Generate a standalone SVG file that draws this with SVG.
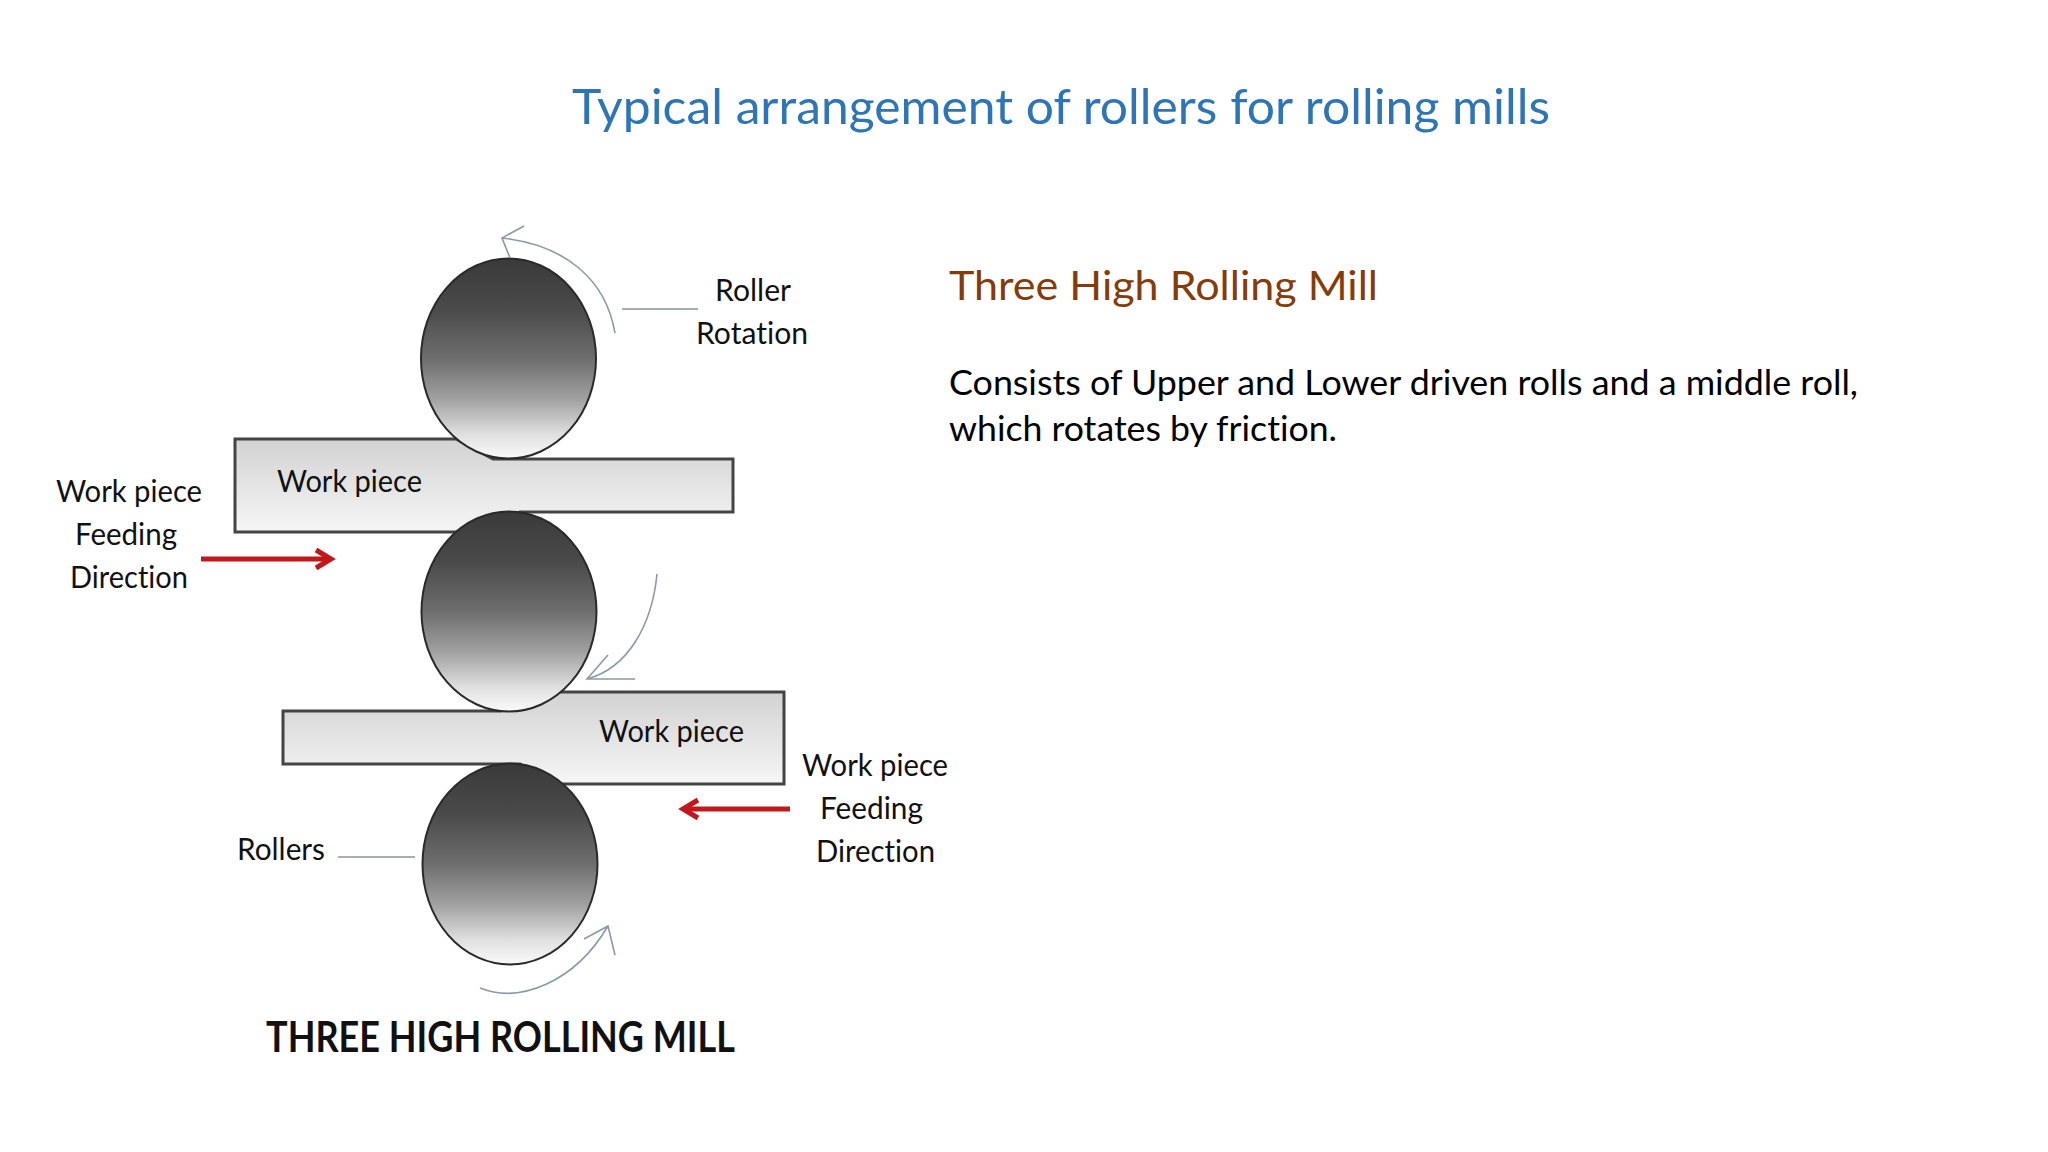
<svg xmlns="http://www.w3.org/2000/svg" width="2048" height="1152" viewBox="0 0 2048 1152">
<style>
text{font-family:"Lato","Carlito","Liberation Sans",sans-serif;fill:#111;font-variant-ligatures:none}
.lab{font-size:31px}
.title{font-size:48px;fill:#2e75b6}
.head{font-size:41px;fill:#843c0c}
.body{font-size:35px;fill:#000}
.roller{fill:url(#rg);stroke:#2a2a2a;stroke-width:2}
.wp{fill:url(#wg);stroke:#444;stroke-width:3}
.rot{fill:none;stroke:#8a9aa6;stroke-width:1.6}
.lead{fill:none;stroke:#8a949c;stroke-width:1.6}
.feed{fill:none;stroke:#c0181c;stroke-width:5;marker-end:url(#chev)}
</style>
<defs>
<linearGradient id="rg" x1="0" y1="0" x2="0" y2="1">
<stop offset="0" stop-color="#3a3a3a"/><stop offset=".25" stop-color="#4a4a4a"/><stop offset=".5" stop-color="#6e6e6e"/><stop offset=".7" stop-color="#a0a0a0"/><stop offset=".88" stop-color="#e0e0e0"/><stop offset="1" stop-color="#fafafa"/>
</linearGradient>
<linearGradient id="wg" x1="0" y1="0" x2="0" y2="1">
<stop offset="0" stop-color="#d2d2d2"/><stop offset=".5" stop-color="#e4e4e4"/><stop offset="1" stop-color="#f6f6f6"/>
</linearGradient>
<marker id="chev" markerUnits="userSpaceOnUse" markerWidth="24" markerHeight="24" refX="16" refY="12" orient="auto" overflow="visible">
<path d="M1 3 L16 12 L1 21" fill="none" stroke="#c0181c" stroke-width="5"/>
</marker>
</defs>
<rect width="2048" height="1152" fill="#fff"/>
<g id="page-title"><text class="title" x="572" y="124" textLength="978" lengthAdjust="spacingAndGlyphs">Typical arrangement of rollers for rolling mills</text></g>
<g id="description">
<text class="head" x="949" y="300" textLength="429" lengthAdjust="spacingAndGlyphs">Three High Rolling Mill</text>
<text class="body" x="949" y="395" textLength="909" lengthAdjust="spacingAndGlyphs">Consists of Upper and Lower driven rolls and a middle roll,</text>
<text class="body" x="949" y="441" textLength="388" lengthAdjust="spacingAndGlyphs">which rotates by friction.</text>
</g>
<g id="workpiece-top"><polygon class="wp" points="235,439 456,439 493,459 733,459 733,512 520,512 470,532 235,532"/>
<text class="lab" x="277" y="492" textLength="145" lengthAdjust="spacingAndGlyphs">Work piece</text></g>
<g id="workpiece-bottom"><polygon class="wp" points="283,711 500,711 560,692 784,692 784,784 560,784 520,764 283,764"/>
<text class="lab" x="599" y="742" textLength="145" lengthAdjust="spacingAndGlyphs">Work piece</text></g>
<g id="roller-top"><ellipse class="roller" cx="508.500" cy="358.500" rx="87.500" ry="100"/></g>
<g id="roller-middle"><ellipse class="roller" cx="509" cy="611.500" rx="87.500" ry="100"/></g>
<g id="roller-bottom"><ellipse class="roller" cx="510" cy="864" rx="87.500" ry="100.500"/></g>
<g id="connectors">
<path class="rot" d="M615 333 C606 280 566 245 502 238 M524 226 L502 238 L510 258"/>
<path class="rot" d="M657 574 C652 625 628 668 587 679 M608 655 L587 679 L635 679"/>
<path class="rot" d="M480 988 C520 1004 575 982 608 926 M584 939 L608 926 L615 955"/>
<path class="lead" d="M622 309 H698"/>
<path class="lead" d="M338 857 H415"/>
<path class="feed" d="M201 559 H331"/>
<path class="feed" d="M790 809 H683"/>
</g>
<g id="label-roller-rotation">
<text class="lab" x="715" y="301" textLength="76" lengthAdjust="spacingAndGlyphs">Roller</text>
<text class="lab" x="696" y="344" textLength="112" lengthAdjust="spacingAndGlyphs">Rotation</text>
</g>
<g id="label-feed-left">
<text class="lab" x="56" y="502" textLength="146" lengthAdjust="spacingAndGlyphs">Work piece</text>
<text class="lab" x="75" y="545" textLength="102" lengthAdjust="spacingAndGlyphs">Feeding</text>
<text class="lab" x="70" y="588" textLength="118" lengthAdjust="spacingAndGlyphs">Direction</text>
</g>
<g id="label-feed-right">
<text class="lab" x="802" y="776" textLength="146" lengthAdjust="spacingAndGlyphs">Work piece</text>
<text class="lab" x="820" y="819" textLength="103" lengthAdjust="spacingAndGlyphs">Feeding</text>
<text class="lab" x="816" y="862" textLength="119" lengthAdjust="spacingAndGlyphs">Direction</text>
</g>
<g id="label-rollers"><text class="lab" x="237" y="860" textLength="88" lengthAdjust="spacingAndGlyphs">Rollers</text></g>
<g id="diagram-caption"><text x="266" y="1052" font-size="42" font-weight="700" textLength="469" lengthAdjust="spacingAndGlyphs">THREE HIGH ROLLING MILL</text></g>
</svg>
